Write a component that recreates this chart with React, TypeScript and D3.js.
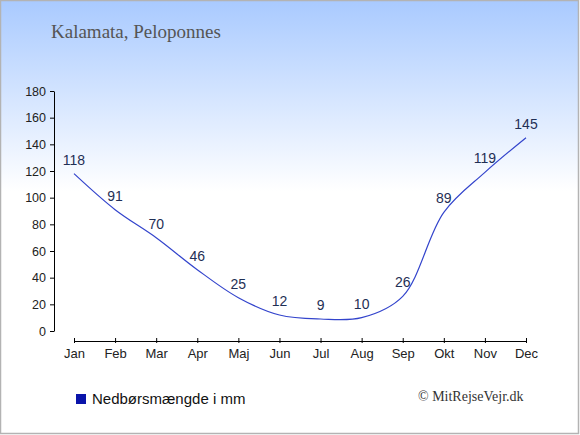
import React, { useEffect, useRef } from 'react';
import * as d3 from 'd3';

const months = ['Jan', 'Feb', 'Mar', 'Apr', 'Maj', 'Jun', 'Jul', 'Aug', 'Sep', 'Okt', 'Nov', 'Dec'];
const rainfall = [118, 91, 70, 46, 25, 12, 9, 10, 26, 89, 119, 145];
const yTicks = [0, 20, 40, 60, 80, 100, 120, 140, 160, 180];

const title = 'Kalamata, Peloponnes';
const legendLabel = 'Nedbørsmængde i mm';
const credit = '© MitRejseVejr.dk';

const App: React.FC = () => {
  const svgRef = useRef<SVGSVGElement | null>(null);

  useEffect(() => {
    const svg = d3.select(svgRef.current);
    svg.selectAll('*').remove();

    const width = 580;
    const height = 435;

    const defs = svg.append('defs');
    const grad = defs.append('linearGradient')
      .attr('id', 'bg')
      .attr('x1', 0).attr('y1', 0).attr('x2', 0).attr('y2', 1);
    grad.append('stop').attr('offset', '0%').attr('stop-color', '#a9caff');
    grad.append('stop').attr('offset', '44%').attr('stop-color', '#ffffff');
    grad.append('stop').attr('offset', '100%').attr('stop-color', '#ffffff');

    svg.append('rect')
      .attr('x', 0.5).attr('y', 0.5)
      .attr('width', width - 2).attr('height', height - 2)
      .attr('fill', 'url(#bg)')
      .attr('stroke', '#b3b3b3')
      .attr('stroke-width', 1.5);

    const x = d3.scalePoint<string>().domain(months).range([74, 526]);
    const y = d3.scaleLinear().domain([0, 180]).range([331, 91]);

    // y axis
    const yAxis = svg.append('g')
      .attr('transform', 'translate(54,0)')
      .call(d3.axisLeft(y).tickValues(yTicks).tickSize(4).tickPadding(4).tickSizeOuter(0));
    yAxis.select('.domain').attr('stroke', '#000');
    yAxis.selectAll('.tick line').attr('stroke', '#000');
    yAxis.selectAll('text')
      .attr('font-family', 'Liberation Sans, Arial, sans-serif')
      .attr('font-size', 12.5)
      .attr('fill', '#222');

    // x axis
    const xAxis = svg.append('g')
      .attr('transform', 'translate(0,341)')
      .call(d3.axisBottom(x).tickSize(2).tickPadding(6).tickSizeOuter(0));
    xAxis.select('.domain').attr('stroke', '#000');
    xAxis.selectAll('.tick line').attr('stroke', '#000').attr('y1', -3).attr('y2', 2);
    xAxis.selectAll('text')
      .attr('font-family', 'Liberation Sans, Arial, sans-serif')
      .attr('font-size', 13)
      .attr('fill', '#222');

    // line
    const line = d3.line<number>()
      .x((_, i) => x(months[i])!)
      .y((d) => y(d))
      .curve(d3.curveCatmullRom);

    svg.append('path')
      .datum(rainfall)
      .attr('d', line)
      .attr('fill', 'none')
      .attr('stroke', '#3344cc')
      .attr('stroke-width', 1.2);

    // value labels
    svg.selectAll('text.val')
      .data(rainfall)
      .enter()
      .append('text')
      .attr('class', 'val')
      .attr('x', (_, i) => x(months[i])!)
      .attr('y', (d) => y(d) - 9)
      .attr('text-anchor', 'middle')
      .attr('font-family', 'Liberation Sans, Arial, sans-serif')
      .attr('font-size', 14)
      .attr('fill', '#1f2f55')
      .text((d) => d);

    // title
    svg.append('text')
      .attr('x', 51)
      .attr('y', 38)
      .attr('font-family', 'Liberation Serif, Times New Roman, serif')
      .attr('font-size', 19)
      .attr('fill', '#555')
      .text(title);

    // legend
    svg.append('rect')
      .attr('x', 76).attr('y', 394)
      .attr('width', 10).attr('height', 10)
      .attr('fill', '#0a14aa');
    svg.append('text')
      .attr('x', 92)
      .attr('y', 404)
      .attr('font-family', 'Liberation Sans, Arial, sans-serif')
      .attr('font-size', 15)
      .attr('fill', '#111')
      .text(legendLabel);

    svg.append('text')
      .attr('x', 418)
      .attr('y', 401)
      .attr('font-family', 'Liberation Serif, Times New Roman, serif')
      .attr('font-size', 14)
      .attr('fill', '#333')
      .text(credit);
  }, []);

  return (
    <div style={{ position: 'absolute', left: 0, top: 0 }}>
      <svg ref={svgRef} width={580} height={435}></svg>
    </div>
  );
};

export default App;
